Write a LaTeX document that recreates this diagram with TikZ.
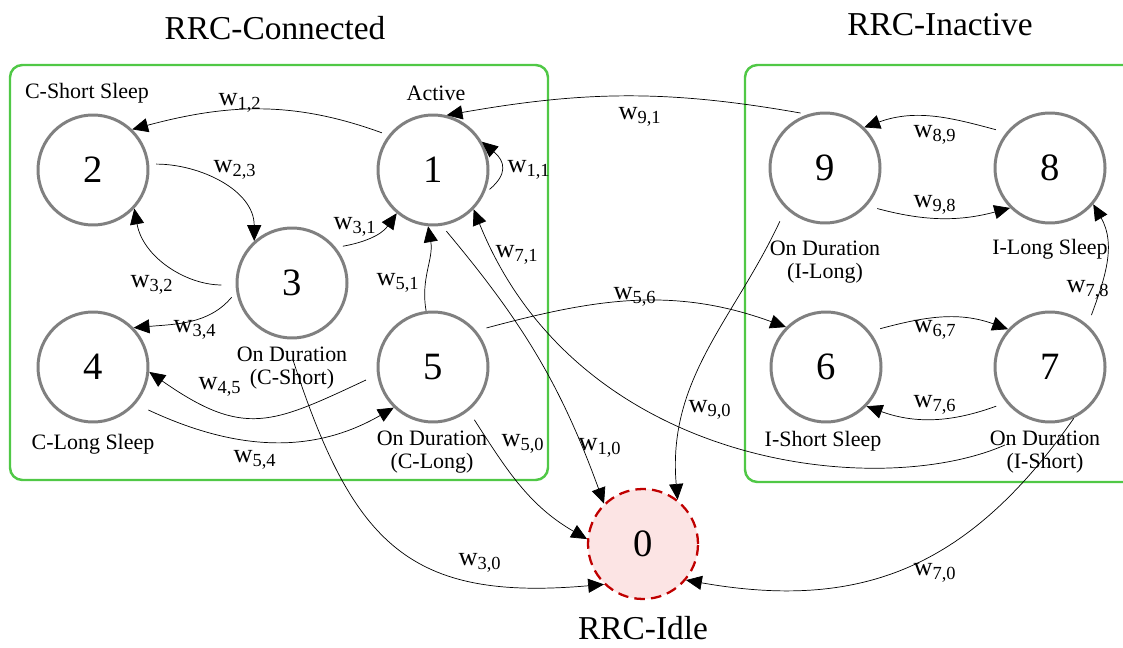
\documentclass[tikz,border=0pt]{standalone}
\usepackage{fontspec}
\setmainfont{Liberation Serif}
\usepackage{tikz}
\usetikzlibrary{arrows.meta}
\definecolor{boxgreen}{RGB}{80,200,70}
\definecolor{idlered}{RGB}{192,0,0}
\definecolor{idlefill}{RGB}{252,228,228}
\definecolor{ringgray}{RGB}{128,128,128}
\newcommand{\wt}[1]{w\textsubscript{#1}}
\tikzset{
  state/.style={circle,draw=ringgray,line width=1.7pt,fill=white,minimum size=2.2cm,inner sep=0pt,font=\fontsize{22}{22}\selectfont},
  idle/.style={circle,draw=idlered,line width=1.3pt,dash pattern=on 6pt off 3.5pt,fill=idlefill,minimum size=2.2cm,inner sep=0pt,font=\fontsize{22}{22}\selectfont},
  stxt/.style={align=center,font=\fontsize{12.5}{13.5}\selectfont},
  wtxt/.style={font=\fontsize{15}{15}\selectfont,inner sep=1pt},
  title/.style={font=\fontsize{19}{19}\selectfont,inner sep=0pt},
  edge/.style={->,line width=0.4pt,shorten <=4pt},
  group/.style={draw=boxgreen,line width=1.4pt,rounded corners=7pt}
}

\begin{document}
\begin{tikzpicture}[x=0.2cm,y=0.2cm,>={Triangle[length=9pt,width=8pt]}]
  \useasboundingbox (0,0) rectangle (112.3,64.7);
  \clip (0,0) rectangle (112.3,64.7);
      \draw[group] (1.0,58.2) rectangle (54.8,16.7); % connected box
      \draw[group] (74.5,58.2) rectangle (114,16.5); % inactive box
      \node[title] (connected) at (27.5,61.9) {RRC-Connected};
      \node[title] (inactive) at (94.0,62.2) {RRC-Inactive};
      \node[title] (idlename) at (64.3,1.9) {RRC-Idle};
      % states
      \node[state] (s1) at (43.3,47.7) {1};
      \node[state] (s2) at (9.3,47.7) {2};
      \node[state] (s3) at (29.2,36.4) {3};
      \node[state] (s4) at (9.3,28.0) {4};
      \node[state] (s5) at (43.3,28.0) {5};
      \node[state] (s6) at (82.6,28.0) {6};
      \node[state] (s7) at (105.0,28.0) {7};
      \node[state] (s8) at (105.0,47.9) {8};
      \node[state] (s9) at (82.5,47.9) {9};
      \node[idle] (s0) at (64.3,10.3) {0};
      % state names
      \node[stxt] (t1) at (43.6,55.4) {Active};
      \node[stxt] (t2) at (8.7,55.4) {C-Short Sleep};
      \node[stxt] (t3) at (29.2,27.9) {On Duration\\(C-Short)};
      \node[stxt] (t4) at (9.3,20.3) {C-Long Sleep};
      \node[stxt] (t5) at (43.2,19.5) {On Duration\\(C-Long)};
      \node[stxt] (t6) at (82.3,20.6) {I-Short Sleep};
      \node[stxt] (t7) at (104.5,19.5) {On Duration\\(I-Short)};
      \node[stxt] (t8) at (105.0,39.8) {I-Long Sleep};
      \node[stxt] (t9) at (82.5,38.5) {On Duration\\(I-Long)};
      % free ends
      \coordinate (c71) at (100.5,20.2);
      \coordinate (c30) at (29.3,28.7);
      % transitions
      \draw[edge] (s1.142) to[out=160,in=15] (s2.46); % 1 to 2
      \draw[edge] (s2.6) to[out=0,in=90] (s3.132); % 2 to 3
      \draw[edge] (s1.-25) to[out=40,in=-40,looseness=1.5] (s1.30); % 1 to 1
      \draw[edge] (s3.39) to[out=10,in=235] (s1.230); % 3 to 1
      \draw[edge,shorten <=8pt] (s3.182) to[out=180,in=-80] (s2.-43); % 3 to 2
      \draw[edge] (s3.189) to[out=230,in=5] (s4.44); % 3 to 4
      \draw[edge,shorten <=7pt] (s5.188) to[out=205,in=-35,looseness=1.3] (s4.-5); % 5 to 4
      \draw[edge,shorten <=8pt] (s4.-41) to[out=-25,in=210] (s5.226); % 4 to 5
      \draw[edge,shorten <=0pt] (s5.97) to[out=100,in=-80] (s1.265); % 5 to 1
      \draw[edge,shorten <=6pt] (s5.40) to[out=15,in=160] (s6.135); % 5 to 6
      \draw[edge,shorten <=0pt] (c71) .. controls +(-12.5,-5.5) and +(10.5,-26) .. (s1.-44); % 7 to 1
      \draw[edge] (s1.-81) to[out=-50,in=110] (s0.134); % 1 to 0
      \draw[edge,shorten <=6pt] (s5.-51) to[out=-57,in=150] (s0.175); % 5 to 0
      \draw[edge,shorten <=0pt] (c30) to[out=-72,in=185,looseness=1.3] (s0.226); % 3 to 0
      \draw[edge,shorten <=0pt] (s7.-65) to[out=235,in=-10,looseness=1.1] (s0.-40); % 7 to 0
      \draw[edge,shorten <=8pt] (s9.226) to[out=245,in=95] (s0.52); % 9 to 0
      \draw[edge] (s9.108) to[out=170,in=10] (s1.76); % 9 to 1
      \draw[edge,shorten <=6pt] (s8.141) to[out=165,in=20] (s9.46); % 8 to 9
      \draw[edge,shorten <=6pt] (s9.-42) to[out=-15,in=195] (s8.225); % 9 to 8
      \draw[edge,shorten <=6pt] (s6.39) to[out=15,in=160] (s7.138); % 6 to 7
      \draw[edge,shorten <=6pt] (s7.219) to[out=200,in=-20] (s6.-44); % 7 to 6
      \draw[edge,shorten <=6pt] (s7.48) to[out=70,in=-60] (s8.-40); % 7 to 8
      % weights
      \node[wtxt] (l12) at (24.0,54.4) {\wt{1,2}};
      \node[wtxt] (l23) at (23.5,47.7) {\wt{2,3}};
      \node[wtxt] (l11) at (52.9,47.7) {\wt{1,1}};
      \node[wtxt] (l31) at (35.5,42.0) {\wt{3,1}};
      \node[wtxt] (l71) at (51.7,39.2) {\wt{7,1}};
      \node[wtxt] (l51) at (39.8,36.4) {\wt{5,1}};
      \node[wtxt] (l32) at (15.2,36.2) {\wt{3,2}};
      \node[wtxt] (l34) at (19.5,31.7) {\wt{3,4}};
      \node[wtxt] (l45) at (22.0,26.0) {\wt{4,5}};
      \node[wtxt] (l54) at (25.5,18.7) {\wt{5,4}};
      \node[wtxt] (l50) at (52.3,20.3) {\wt{5,0}};
      \node[wtxt] (l10) at (60.0,19.9) {\wt{1,0}};
      \node[wtxt] (l90) at (71.0,23.7) {\wt{9,0}};
      \node[wtxt] (l91) at (64.0,53.0) {\wt{9,1}};
      \node[wtxt] (l89) at (93.5,51.2) {\wt{8,9}};
      \node[wtxt] (l98) at (93.5,44.2) {\wt{9,8}};
      \node[wtxt] (l56) at (63.5,35.0) {\wt{5,6}};
      \node[wtxt] (l67) at (93.5,31.7) {\wt{6,7}};
      \node[wtxt] (l76) at (93.5,24.2) {\wt{7,6}};
      \node[wtxt] (l78) at (108.8,35.7) {\wt{7,8}};
      \node[wtxt] (l30) at (48.0,8.4) {\wt{3,0}};
      \node[wtxt] (l70) at (93.5,7.4) {\wt{7,0}};
\end{tikzpicture}
\end{document}
